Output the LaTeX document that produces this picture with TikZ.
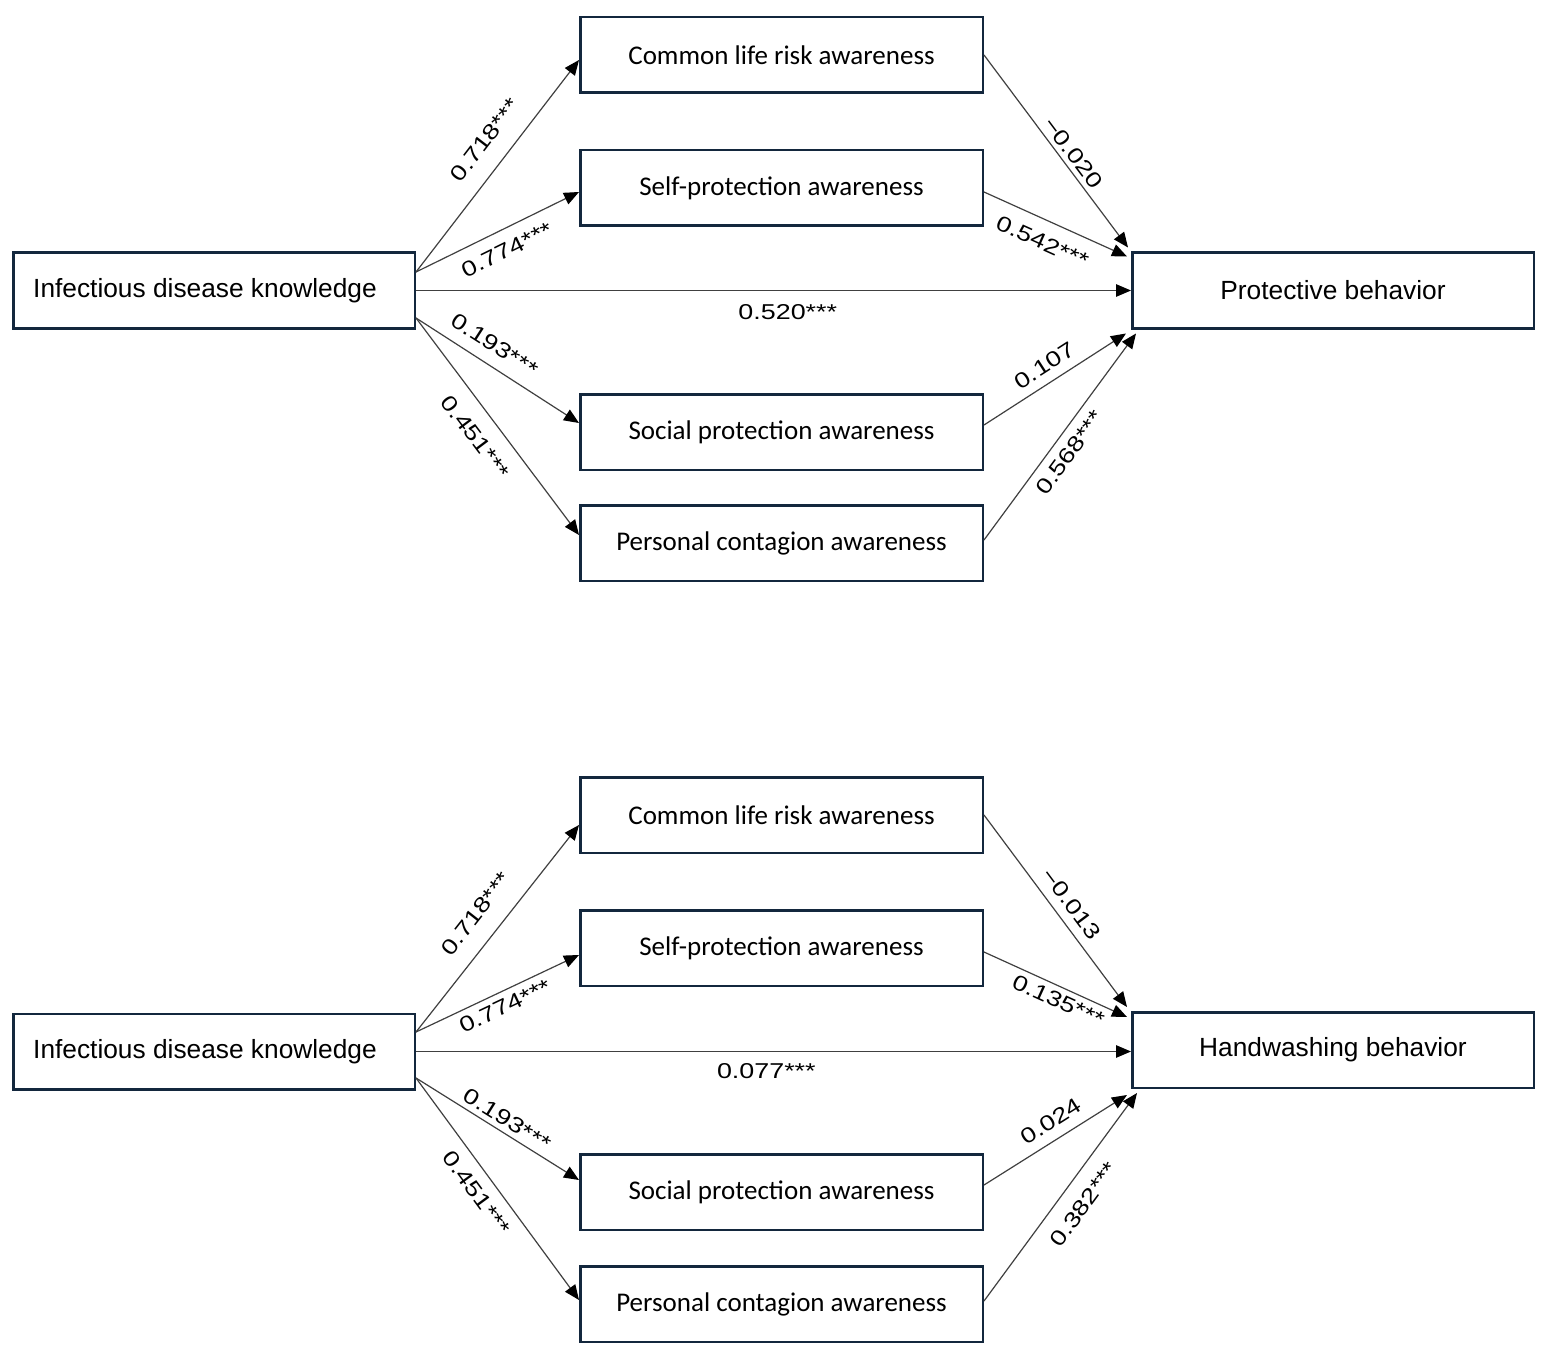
\documentclass[tikz,border=0pt]{standalone}
\usepackage{fontspec}
\usetikzlibrary{arrows.meta}
\newfontfamily\outerf{Liberation Sans}
\newfontfamily\midf{Carlito}
\newfontfamily\labf[FakeStretch=1.25]{Liberation Sans}
\definecolor{boxblue}{HTML}{13273D}
\definecolor{lineg}{HTML}{404040}
\tikzset{
  outerbox/.style={draw=boxblue, line width=2.5pt, minimum width=401.5pt, minimum height=75.5pt, inner sep=0pt, font=\outerf\fontsize{26.3}{30}\selectfont},
  midbox/.style={draw=boxblue, line width=2.5pt, minimum width=402.5pt, minimum height=75.5pt, inner sep=0pt, font=\midf\fontsize{27}{31}\selectfont},
  conn/.style={draw=lineg, line width=1.2pt, -{Triangle[length=15pt,width=12.5pt,color=black]}},
  lab/.style={font=\labf\fontsize{21.5}{25}\selectfont, inner sep=0pt, sloped, text=black}
}
\begin{document}
\begin{tikzpicture}[x=1pt,y=-1pt]
\useasboundingbox (0,0) rectangle (1551,1359);
\fill[white] (0,0) rectangle (1551,1359);

% ---------- top diagram ----------
\node[outerbox] (idk1) at (214,290.5) {Infectious disease knowledge\hspace*{18pt}};
\node[midbox] (crl1) at (781.5,55) {Common life risk awareness};
\node[midbox] (spa1) at (781.5,188) {Self-protection awareness};
\node[midbox] (soc1) at (781.5,432) {Social protection awareness};
\node[midbox] (pca1) at (781.5,543) {Personal contagion awareness};
\node[outerbox] (pb1) at (1333,290.5) {Protective behavior};

\draw[conn] ([yshift=18.5pt]idk1.east) -- ([yshift=-5pt]crl1.west)
  node[lab, pos=.549, above, outer ysep=18pt] {0.718***};
\draw[conn] ([yshift=18.5pt]idk1.east) -- ([yshift=-4pt]spa1.west)
  node[lab, pos=.503, below, outer ysep=12.5pt] {0.774***};
\draw[conn] (idk1.east) -- (pb1.west)
  node[lab, pos=.52, below, outer ysep=13.5pt] {0.520***};
\draw[conn] ([yshift=-27.5pt]idk1.east) -- ([yshift=9pt]soc1.west)
  node[lab, pos=.417, above, outer ysep=12.5pt] {0.193***};
\draw[conn] ([yshift=-27.5pt]idk1.east) -- ([yshift=8pt]pca1.west)
  node[lab, pos=.482, below, outer ysep=16.5pt] {0.451***};

\draw[conn] (crl1.east) -- ([xshift=-3pt,yshift=4pt]pb1.north west)
  node[lab, pos=.549, above, outer ysep=5pt] {−0.020};
\draw[conn] ([yshift=-4pt]spa1.east) -- ([xshift=-4pt,yshift=-5pt]pb1.north west)
  node[lab, pos=.471, below, outer ysep=14pt] {0.542***};
\draw[conn] ([yshift=7pt]soc1.east) -- ([xshift=-5pt,yshift=-4pt]pb1.south west)
  node[lab, pos=.491, above, outer ysep=9.5pt] {0.107};
\draw[conn] ([yshift=3pt]pca1.east) -- ([xshift=5pt,yshift=-4pt]pb1.south west)
  node[lab, pos=.4715, below, outer ysep=9.5pt] {0.568***};

% ---------- bottom diagram ----------
\node[outerbox] (idk2) at (214,1051.5) {Infectious disease knowledge\hspace*{18pt}};
\node[midbox] (crl2) at (781.5,815) {Common life risk awareness};
\node[midbox] (spa2) at (781.5,948) {Self-protection awareness};
\node[midbox] (soc2) at (781.5,1192) {Social protection awareness};
\node[midbox] (pca2) at (781.5,1304) {Personal contagion awareness};
\node[outerbox] (hb) at (1333,1050) {Handwashing behavior};

\draw[conn] ([yshift=19.5pt]idk2.east) -- ([yshift=-10pt]crl2.west)
  node[lab, pos=.4935, above, outer ysep=18.5pt] {0.718***};
\draw[conn] ([yshift=19.5pt]idk2.east) -- ([yshift=-7pt]spa2.west)
  node[lab, pos=.5075, below, outer ysep=7pt] {0.774***};
\draw[conn] (idk2.east) -- (idk2.east -| hb.west)
  node[lab, pos=.49, below, outer ysep=11.5pt] {0.077***};
\draw[conn] ([yshift=-26.5pt]idk2.east) -- ([yshift=12pt]soc2.west)
  node[lab, pos=.519, above, outer ysep=5.5pt] {0.193***};
\draw[conn] ([yshift=-26.5pt]idk2.east) -- ([yshift=4pt]pca2.west)
  node[lab, pos=.468, below, outer ysep=11.5pt] {0.451***};

\draw[conn] (crl2.east) -- ([xshift=-4pt,yshift=4pt]hb.north west)
  node[lab, pos=.516, above, outer ysep=9.5pt] {−0.013};
\draw[conn] ([yshift=-4pt]spa2.east) -- ([xshift=-4pt,yshift=-6pt]hb.north west)
  node[lab, pos=.56, below, outer ysep=6pt] {0.135***};
\draw[conn] ([yshift=7pt]soc2.east) -- ([xshift=-4pt,yshift=-6pt]hb.south west)
  node[lab, pos=.537, above, outer ysep=10.5pt] {0.024};
\draw[conn] ([yshift=3pt]pca2.east) -- ([xshift=6pt,yshift=-4pt]hb.south west)
  node[lab, pos=.532, below, outer ysep=15.5pt] {0.382***};
\end{tikzpicture}
\end{document}
